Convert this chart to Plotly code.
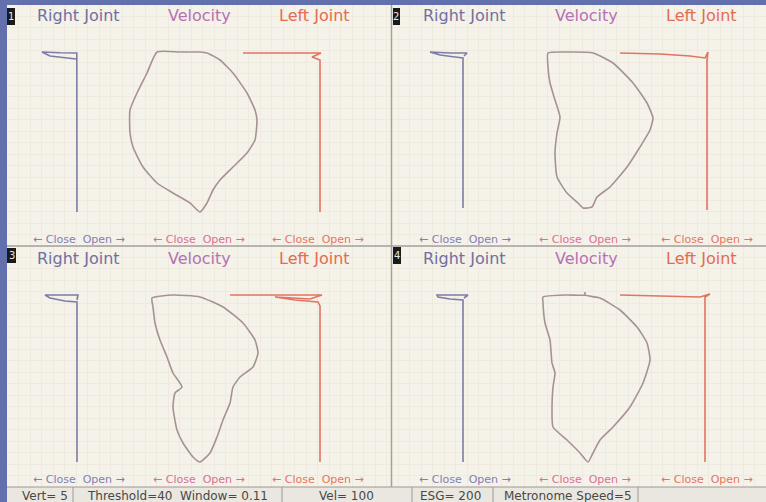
import plotly.graph_objects as go

W, H = 766, 502

# ---- trajectories (mm); y grows downward in each panel ----
# panel 1
rj_x_p1 = [-0.75, -0.75, -0.8, -5.0, -9.5, -7.5, -3.75, -1.0]
rj_y_p1 = [43.0, 20.0, 3.25, 3.2, 3.0, 4.0, 4.5, 4.75]
vel_x_p1 = [-10.75, -13.25, -15.75, -17.5, -17.5, -16.75, -14.25, -10.75, -6.75, -2.5, 0.0,
            1.75, 3.25, 5.0, 8.25, 11.75, 13.75, 14.25, 13.75, 11.75, 8.25, 5.0, 1.75, 0.0, -5.0, -10.75]
vel_y_p1 = [3.0, 8.25, 13.25, 17.5, 23.25, 26.75, 31.75, 35.75, 38.25, 40.75, 43.0,
            40.75, 37.5, 35.0, 31.75, 28.25, 25.0, 20.0, 17.5, 13.25, 8.25, 5.0, 3.25, 3.0, 3.0, 3.0]
lj_x_p1 = [-9.25, -2.5, 5.0, 10.25, 8.0, 10.0, 10.0]
lj_y_p1 = [3.25, 3.25, 3.25, 3.25, 4.25, 5.0, 43.0]

# panel 2
rj_x_p2 = [-0.5, -0.5, -2.5, -6.25, -8.75, -3.75, 0.5, -0.25]
rj_y_p2 = [42.0, 4.5, 4.25, 3.75, 3.0, 3.25, 3.25, 4.0]
vel_x_p2 = [-9.25, -4.5, 2.0, 7.0, 12.0, 15.5, 17.0, 16.25, 13.75, 10.5, 6.25, 3.0, 1.75, -0.5,
            -1.75, -4.5, -7.0, -7.5, -7.0, -6.25, -7.5, -8.75, -9.25, -9.25]
vel_y_p2 = [3.25, 3.0, 3.25, 5.75, 10.75, 15.75, 19.5, 22.5, 26.75, 31.75, 36.75, 39.25, 41.75, 42.0,
            40.75, 38.25, 34.25, 28.25, 23.25, 19.25, 15.0, 10.75, 6.75, 3.25]
lj_x_p2 = [-11.25, -1.25, 6.25, 10.0, 10.75, 10.5, 10.5]
lj_y_p2 = [3.25, 3.5, 4.0, 4.5, 3.0, 5.0, 42.5]

# panel 3
rj_x_p3 = [-0.75, -0.75, -3.75, -7.5, -8.75, -5.0, -0.5, -0.75]
rj_y_p3 = [44.25, 4.25, 4.0, 3.25, 2.5, 2.5, 2.5, 3.75]
vel_x_p3 = [-12.0, -6.75, 0.0, 5.75, 10.75, 13.75, 14.5, 13.25, 10.0, 8.25, 7.5, 5.75, 4.25, 2.5, 0.0,
            -1.75, -4.25, -5.75, -6.75, -6.25, -4.5, -6.75, -8.25, -10.0, -11.25, -11.75, -12.0]
vel_y_p3 = [3.25, 2.5, 3.0, 5.5, 9.5, 13.75, 17.0, 20.5, 23.0, 25.5, 29.5, 33.75, 38.0, 42.0, 44.25,
            43.0, 39.5, 36.25, 30.5, 27.0, 25.5, 22.0, 18.0, 13.75, 9.5, 5.5, 3.25]
lj_x_p3 = [-12.5, 0.0, 10.5, 7.5, 2.5, -1.25, 3.75, 9.5, 10.0, 10.0]
lj_y_p3 = [2.5, 2.5, 2.5, 3.5, 3.25, 3.0, 3.75, 4.25, 5.25, 44.25]

# panel 4
rj_x_p4 = [-0.5, -0.5, -3.75, -6.75, -7.0, -2.5, 0.75, -0.25]
rj_y_p4 = [44.25, 3.75, 3.5, 3.0, 2.5, 2.5, 2.5, 3.25]
vel_x_p4 = [-10.5, -10.5, -10.0, -8.75, -8.25, -7.5, -8.0, -8.25, -8.0, -4.5, -1.25, 0.75, 2.0, 3.75,
            7.0, 11.25, 14.5, 16.25, 15.5, 13.0, 8.75, 3.75, 0.0, 0.0, 0.0, -4.5, -10.5]
vel_y_p4 = [3.0, 4.5, 9.5, 13.75, 19.5, 22.0, 25.5, 30.5, 35.5, 38.75, 42.0, 44.25, 42.0, 38.75,
            35.5, 30.5, 24.5, 18.75, 14.5, 10.5, 6.25, 3.25, 2.5, 1.75, 2.5, 2.5, 3.0]
lj_x_p4 = [-11.25, -1.25, 8.75, 11.25, 10.0, 10.0]
lj_y_p4 = [2.5, 2.75, 3.0, 2.25, 3.0, 44.25]

panel_labels = ["1", "2", "3", "4"]
column_titles = ["Right Joint", "Velocity", "Left Joint"]
axis_hint = "\u2190 Close  Open \u2192"
status_texts = ["Vert= 5", "Threshold=40  Window= 0.11", "Vel= 100", "ESG= 200", "Metronome Speed=5"]

panels = [
    (rj_x_p1, rj_y_p1, vel_x_p1, vel_y_p1, lj_x_p1, lj_y_p1),
    (rj_x_p2, rj_y_p2, vel_x_p2, vel_y_p2, lj_x_p2, lj_y_p2),
    (rj_x_p3, rj_y_p3, vel_x_p3, vel_y_p3, lj_x_p3, lj_y_p3),
    (rj_x_p4, rj_y_p4, vel_x_p4, vel_y_p4, lj_x_p4, lj_y_p4),
]

# ---- colours ----
BLUE = "#6271ae"
CREAM = "#f5f2e9"
GRID = "#eeeae0"
TRACE_COL = ["#7e7ca6", "#a69294", "#e27462"]
TITLE_COL = ["#7070a0", "#b472b4", "#e26c52"]
HINT_COL = ["#8080b4", "#d87096", "#e8745e"]
FONT = "DejaVu Sans"


def fx(px):
    return px / W


def fy(py):
    return 1 - py / H


# layout geometry (pixels)
col_spans_left = [(20, 140), (120, 280), (220, 340)]
col_ranges = [(-15, 15), (-20, 20), (-15, 15)]
panel_dx = [0, 385, 0, 385]
row_spans = [(40, 220), (40, 220), (285, 465), (285, 465)]
title_centers = [[78, 199, 314], [464, 586, 701], [78, 199, 314], [464, 586, 701]]
hint_centers = [[79, 199, 318], [465, 585, 707], [79, 199, 318], [465, 585, 707]]
title_y = [16, 16, 258, 258]
hint_y = [239, 239, 479, 479]
num_boxes = [(7, 8, 15, 25), (393, 8, 400, 25), (7, 248, 16, 263), (393, 247, 401, 264)]

fig = go.Figure()
layout = {}

# background grid on the first subplot
fig.add_trace(go.Scatter(x=[], y=[], xaxis="x", yaxis="y", showlegend=False))
layout["xaxis"] = dict(domain=[fx(7), 1], range=[0, 66], dtick=1, showgrid=True, gridcolor=GRID,
                       gridwidth=1, zeroline=False, showticklabels=False, ticks="", fixedrange=True)
layout["yaxis"] = dict(domain=[fy(487), fy(5)], range=[0, 42], dtick=1, showgrid=True, gridcolor=GRID,
                       gridwidth=1, zeroline=False, showticklabels=False, ticks="", fixedrange=True)

n = 2
for p, data in enumerate(panels):
    ytop, ybot = row_spans[p]
    for c in range(3):
        x0, x1 = col_spans_left[c]
        x0 += panel_dx[p]
        x1 += panel_dx[p]
        xs, ys = data[2 * c], data[2 * c + 1]
        fig.add_trace(go.Scatter(
            x=xs, y=ys, mode="lines", xaxis=f"x{n}", yaxis=f"y{n}",
            line=dict(color=TRACE_COL[c], width=1.6,
                      shape="spline" if c == 1 else "linear", smoothing=0.5),
            showlegend=False, hoverinfo="skip"))
        layout[f"xaxis{n}"] = dict(domain=[fx(x0), fx(x1)], range=list(col_ranges[c]), visible=False,
                                   anchor=f"y{n}", fixedrange=True)
        layout[f"yaxis{n}"] = dict(domain=[fy(ybot), fy(ytop)], range=[45, 0], visible=False,
                                   anchor=f"x{n}", fixedrange=True)
        n += 1

shapes = [
    # working area
    dict(type="rect", xref="paper", yref="paper", x0=fx(7), x1=1, y0=0, y1=fy(5),
         fillcolor=CREAM, line_width=0, layer="below"),
    # status bar
    dict(type="rect", xref="paper", yref="paper", x0=fx(7), x1=1, y0=0, y1=fy(487),
         fillcolor="#e9e7e0", line_width=0, layer="below"),
    dict(type="line", xref="paper", yref="paper", x0=fx(7), x1=1, y0=fy(487), y1=fy(487),
         line=dict(color="#9c9a94", width=1)),
    # panel dividers
    dict(type="line", xref="paper", yref="paper", x0=fx(391.5), x1=fx(391.5), y0=fy(487), y1=fy(5),
         line=dict(color="#a3a19b", width=1.5)),
    dict(type="line", xref="paper", yref="paper", x0=fx(7), x1=1, y0=fy(246), y1=fy(246),
         line=dict(color="#a3a19b", width=1.5)),
]
for sx in [73, 282, 412, 493, 638]:
    shapes.append(dict(type="line", xref="paper", yref="paper", x0=fx(sx), x1=fx(sx),
                       y0=0, y1=fy(487), line=dict(color="#9c9a94", width=1)))
for (bx0, by0, bx1, by1) in num_boxes:
    shapes.append(dict(type="rect", xref="paper", yref="paper", x0=fx(bx0), x1=fx(bx1),
                       y0=fy(by1), y1=fy(by0), fillcolor="#1a1a1a", line_width=0))

annotations = []
for p in range(4):
    for c in range(3):
        annotations.append(dict(text=column_titles[c], xref="paper", yref="paper",
                                x=fx(title_centers[p][c]), y=fy(title_y[p]), xanchor="center",
                                yanchor="middle", showarrow=False,
                                font=dict(family=FONT, size=16, color=TITLE_COL[c])))
        annotations.append(dict(text=axis_hint, xref="paper", yref="paper",
                                x=fx(hint_centers[p][c]), y=fy(hint_y[p]), xanchor="center",
                                yanchor="middle", showarrow=False,
                                font=dict(family=FONT, size=11, color=HINT_COL[c])))
    bx0, by0, bx1, by1 = num_boxes[p]
    annotations.append(dict(text=panel_labels[p], xref="paper", yref="paper",
                            x=fx((bx0 + bx1) / 2), y=fy((by0 + by1) / 2), xanchor="center",
                            yanchor="middle", showarrow=False,
                            font=dict(family=FONT, size=10, color="#e8e8e8")))

status_pos = [(20, "left"), (85, "left"), (376, "right"), (418, "left"), (502, "left")]
for txt, (sx, anc) in zip(status_texts, status_pos):
    annotations.append(dict(text=txt, xref="paper", yref="paper", x=fx(sx), y=fy(495.5),
                            xanchor=anc, yanchor="middle", showarrow=False,
                            font=dict(family=FONT, size=12, color="#4a4844")))

fig.update_layout(
    width=W, height=H, margin=dict(l=0, r=0, t=0, b=0, pad=0),
    paper_bgcolor=BLUE, plot_bgcolor="rgba(0,0,0,0)",
    shapes=shapes, annotations=annotations, showlegend=False,
    **layout,
)

fig.write_html("out.html", config={"displayModeBar": False})
